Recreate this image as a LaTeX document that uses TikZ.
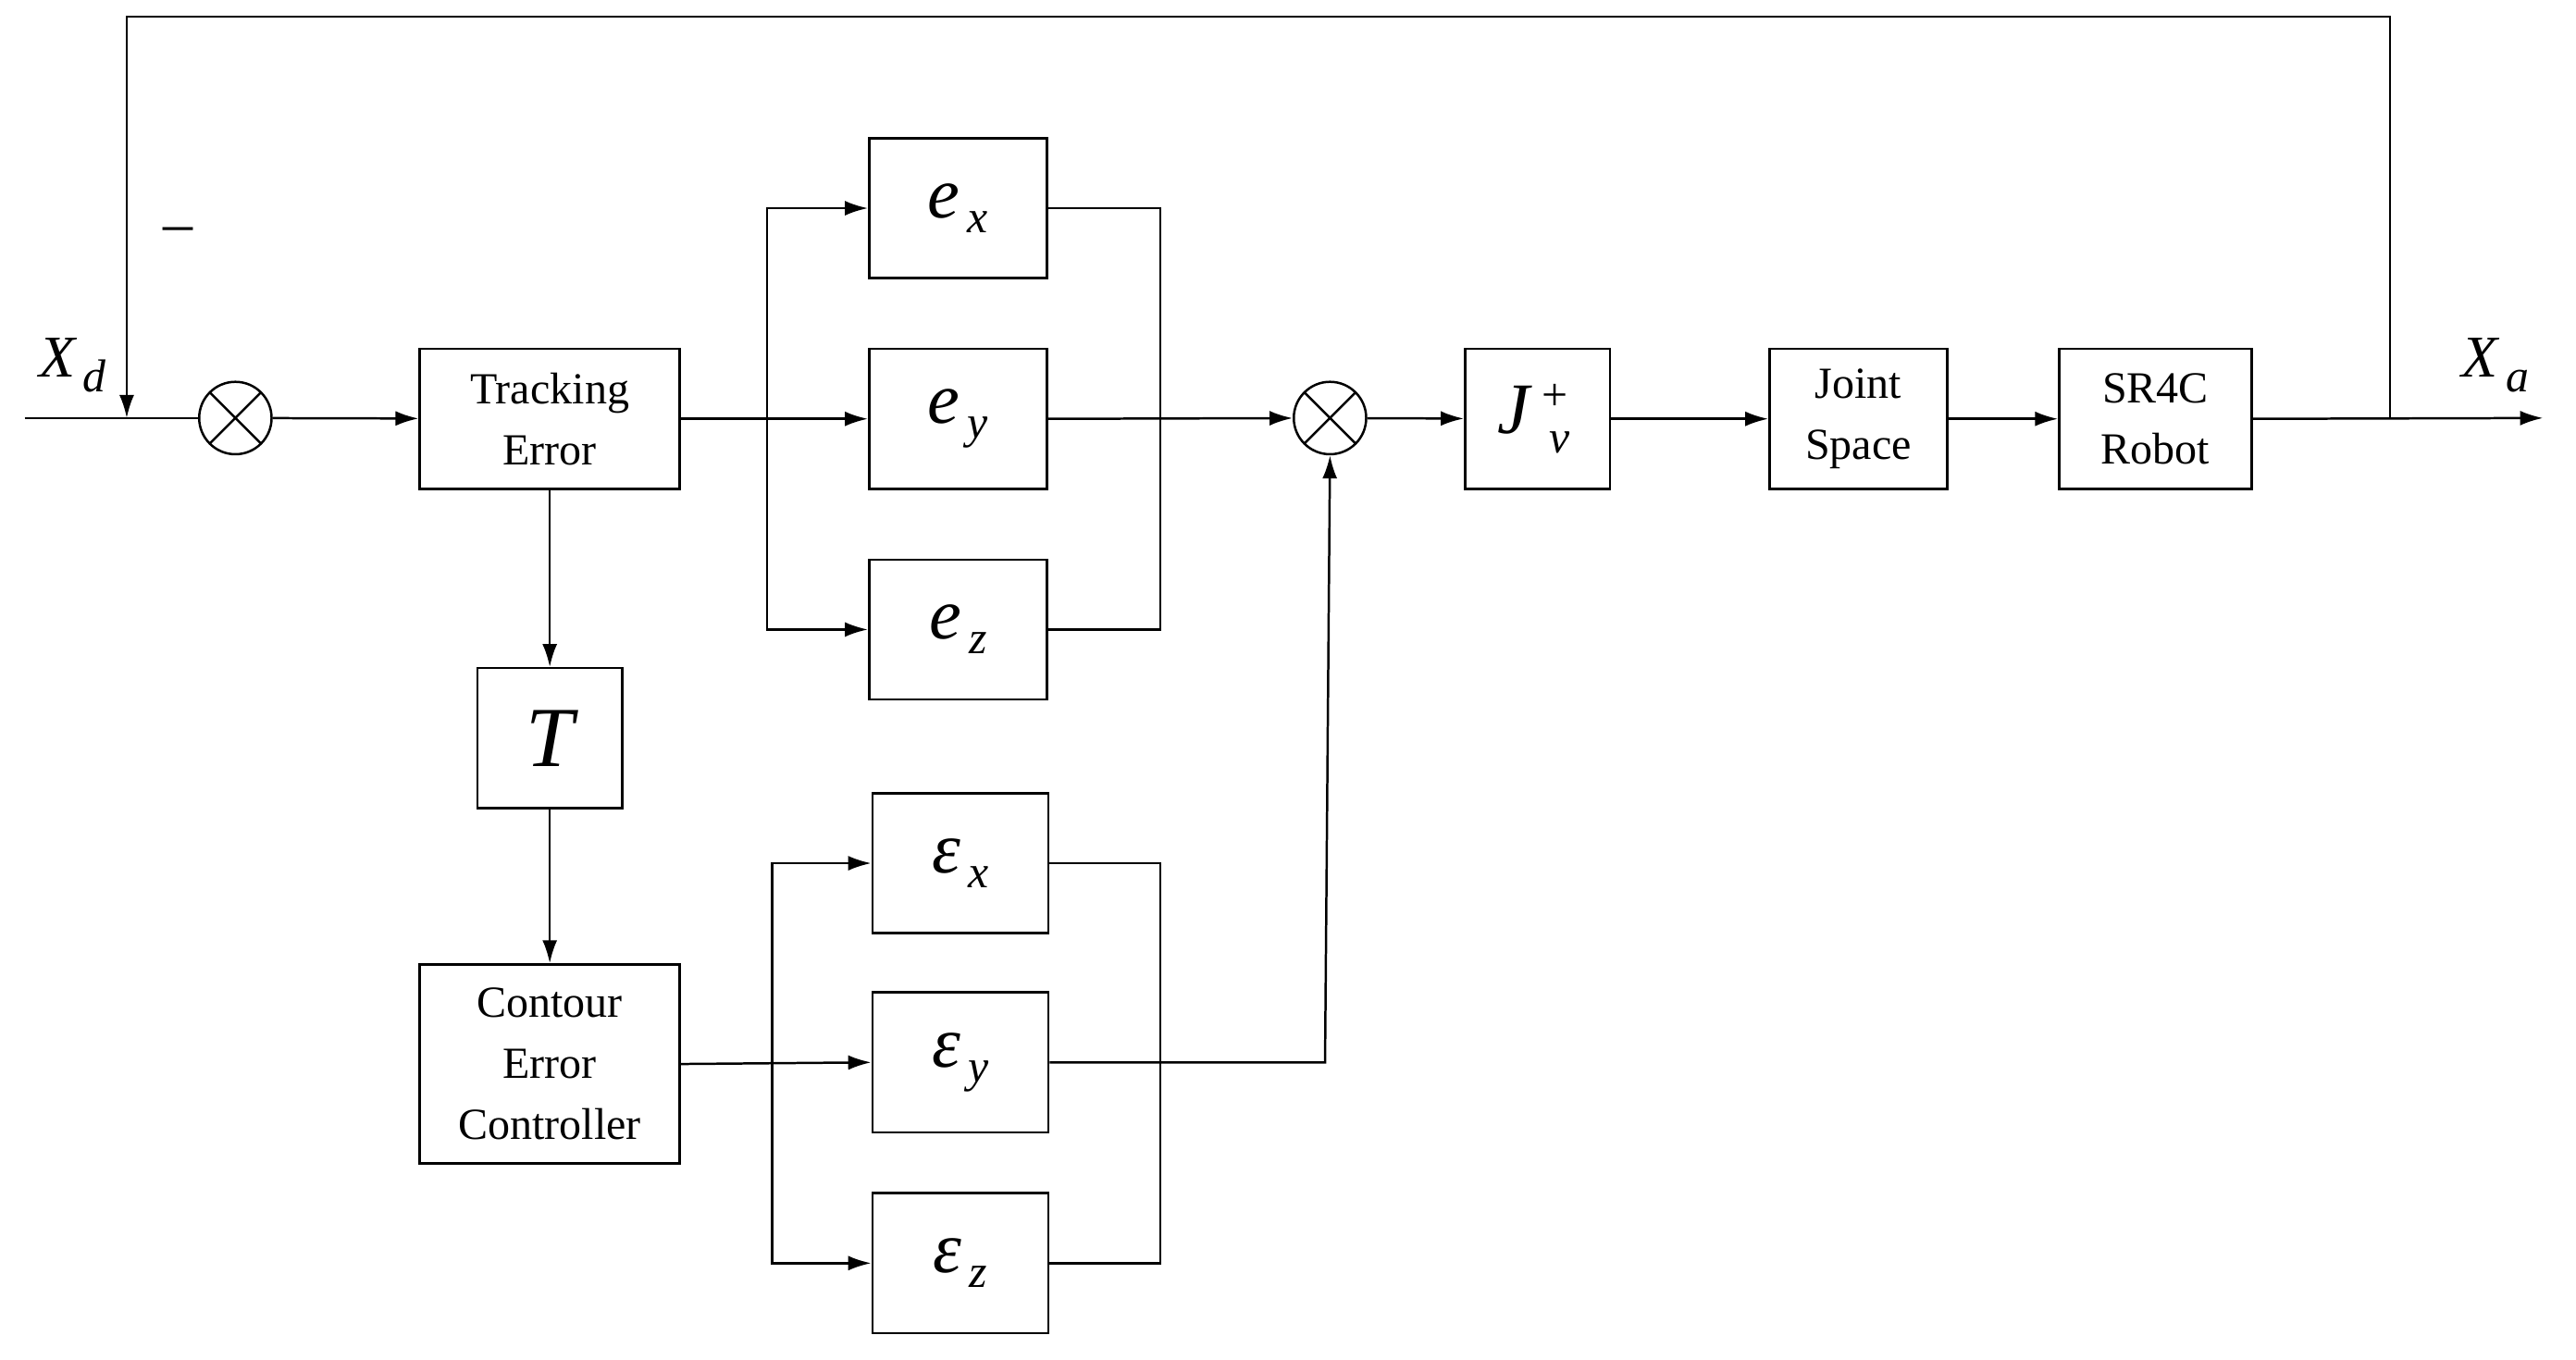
\documentclass[tikz,border=0pt]{standalone}
\usepackage{fontspec}
\setmainfont{Liberation Serif}
\usetikzlibrary{arrows.meta}
\newcommand{\mysub}[2]{{\itshape #1}\raisebox{-9pt}{\fontsize{28}{28}\selectfont\itshape\,#2}}
\begin{document}
\begin{tikzpicture}[x=1pt,y=-1pt,line width=1.4pt,
 box/.style={draw,minimum width=#1,inner sep=0pt,align=center,font=\fontsize{27}{37}\selectfont},
 sum/.style={draw,circle,minimum size=44pt,inner sep=0pt,path picture={\draw (path picture bounding box.north west)--(path picture bounding box.south east) (path picture bounding box.north east)--(path picture bounding box.south west);}},
 arr/.style={-{Latex[length=14pt,width=9pt]}},
 m/.style={font=\fontsize{44}{44}\selectfont}]
\useasboundingbox (0,0) rectangle (1565,826);
\node[sum] (s1) at (143,254) {};
\node[sum] (s2) at (808,254) {};
\node[box=158pt,minimum height=85pt] (te) at (334,254.5) {Tracking\\Error};
\node[box=108pt,minimum height=85pt,m] (ex) at (582,126.5) {\mysub{e}{x}};
\node[box=108pt,minimum height=85pt,m] (ey) at (582,254.5) {\mysub{e}{y}};
\node[box=108pt,minimum height=85pt,m] (ez) at (582,382.5) {\mysub{e}{z}};
\node[box=88pt,minimum height=85pt,m] (J) at (934,254.5) {{\itshape J}\,{\fontsize{28}{28}\selectfont\rlap{\raisebox{14pt}{+}}\raisebox{-12pt}{\itshape\,v}\hspace{4pt}}};
\node[box=108pt,minimum height=85pt] (js) at (1129,254.5) {Joint\\Space};
\node[box=117pt,minimum height=85pt] (rb) at (1309.5,254.5) {SR4C\\Robot};
\node[box=88pt,minimum height=85pt,font=\fontsize{52}{52}\selectfont\itshape] (T) at (334,448.5) {T};
\node[box=158pt,minimum height=121pt] (ce) at (334,646.5) {Contour\\Error\\Controller};
\node[box=107pt,minimum height=85pt,m] (px) at (583.5,524.5) {\mysub{ε}{x}};
\node[box=107pt,minimum height=85pt,m] (py) at (583.5,645.5) {\mysub{ε}{y}};
\node[box=107pt,minimum height=85pt,m] (pz) at (583.5,767.5) {\mysub{ε}{z}};
\coordinate (in) at (15,254);
\coordinate (fb) at (1452,254);
\coordinate (out) at (1545,254);
\draw (in) -- (s1);
\draw[arr] (s1) -- (te);
\draw[arr] (te.east) -- (ey.west);
\draw[arr] (466,254) |- (ex.west);
\draw[arr] (466,254) |- (ez.west);
\draw (ex.east) -- (705,126.5) -- (705,382.5) -- (ez.east);
\draw[arr] (ey.east) -- (s2);
\draw[arr] (s2) -- (J);
\draw[arr] (J) -- (js);
\draw[arr] (js) -- (rb);
\draw[arr] (rb.east) -- (out);
\draw[arr] (fb) -- (1452,10) -- (77,10) -- (77,254);
\draw[arr] (te) -- (T);
\draw[arr] (T) -- (ce);
\draw[arr] (ce.east) -- (py.west);
\draw[arr] (469,645.5) |- (px.west);
\draw[arr] (469,645.5) |- (pz.west);
\draw (px.east) -- (705,524.5) -- (705,767.5) -- (pz.east);
\draw[arr] (py.east) -- (805,645.5) -- (s2.south);
\node[font=\fontsize{36}{36}\selectfont] at (108,143) {\textendash};
\node[font=\fontsize{36}{36}\selectfont] at (44,222) {\mysub{X}{d}};
\node[font=\fontsize{36}{36}\selectfont] at (1516,222) {\mysub{X}{a}};
\end{tikzpicture}
\end{document}
